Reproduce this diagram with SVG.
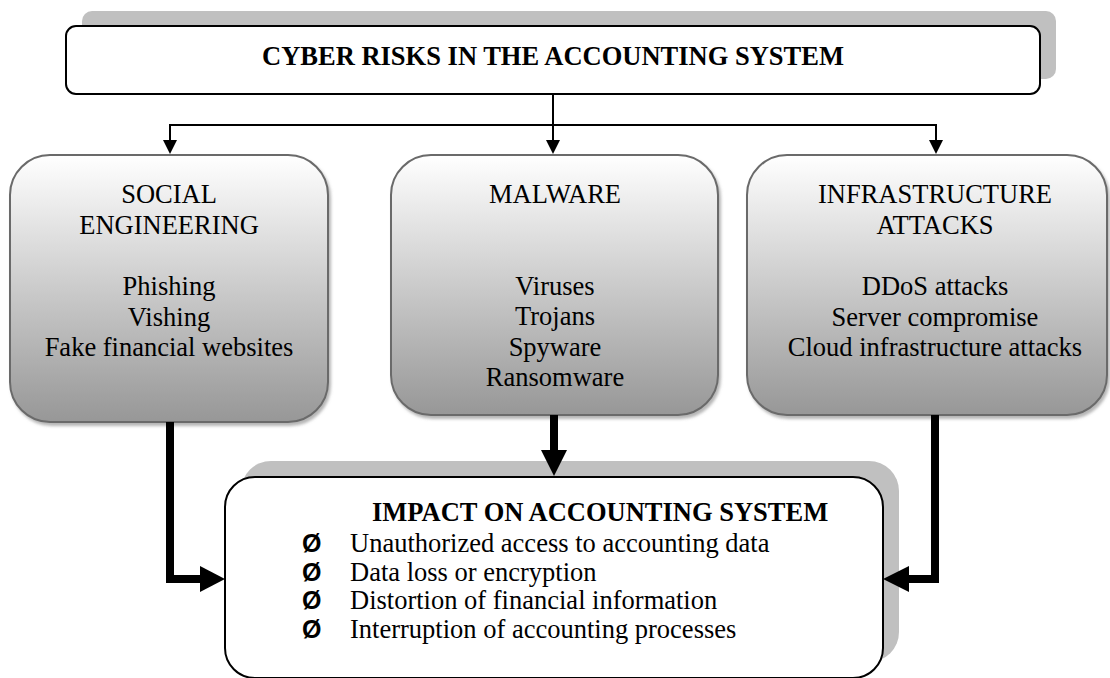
<svg xmlns="http://www.w3.org/2000/svg" width="1110" height="678" viewBox="0 0 1110 678">
  <style>
    .t { font-family: "Liberation Serif", "Times New Roman", serif; font-size: 26.5px; fill: #000; }
    .b { font-weight: bold; }
    .c { text-anchor: middle; }
    .bul { font-family: "Liberation Sans", Arial, sans-serif; font-weight: bold; font-size: 25px; fill: #000; }
    .frame { fill: #fff; stroke: #000; stroke-width: 2; }
    .shade { fill: #c0c0c0; }
    .cat { fill: url(#catFill); stroke: #6a6a6a; stroke-width: 2; filter: url(#soft); }
    .thin { fill: none; stroke: #000; stroke-width: 2; }
    .thick { fill: none; stroke: #000; stroke-width: 8; stroke-linejoin: miter; }
  </style>
  <defs>
    <linearGradient id="catFill" x1="0" y1="0" x2="0" y2="1">
      <stop offset="0" stop-color="#ffffff"/>
      <stop offset="1" stop-color="#979797"/>
    </linearGradient>
    <filter id="soft" x="-5%" y="-5%" width="115%" height="115%">
      <feDropShadow dx="2" dy="3" stdDeviation="1.5" flood-color="#7a7a7a" flood-opacity="0.55"/>
    </filter>
  </defs>

  <!-- heading -->
  <g id="title">
    <rect class="shade" x="82" y="11" width="974" height="68" rx="10"/>
    <rect class="frame" x="66" y="26" width="974" height="68" rx="10"/>
    <text class="t b c" x="553" y="65">CYBER RISKS IN THE ACCOUNTING SYSTEM</text>
  </g>

  <!-- category boxes -->
  <g id="social">
    <rect class="cat" x="10" y="155" width="318" height="267" rx="40"/>
    <text class="t c" x="169" y="203">SOCIAL</text>
    <text class="t c" x="169" y="233.5">ENGINEERING</text>
    <text class="t c" x="169" y="295">Phishing</text>
    <text class="t c" x="169" y="325.5">Vishing</text>
    <text class="t c" x="169" y="356">Fake financial websites</text>
  </g>

  <g id="malware">
    <rect class="cat" x="391" y="155" width="327" height="260" rx="40"/>
    <text class="t c" x="555" y="203">MALWARE</text>
    <text class="t c" x="555" y="294.5">Viruses</text>
    <text class="t c" x="555" y="325">Trojans</text>
    <text class="t c" x="555" y="355.5">Spyware</text>
    <text class="t c" x="555" y="386">Ransomware</text>
  </g>

  <g id="infrastructure">
    <rect class="cat" x="747" y="155" width="360" height="260" rx="40"/>
    <text class="t c" x="935" y="203">INFRASTRUCTURE</text>
    <text class="t c" x="935" y="233.5">ATTACKS</text>
    <text class="t c" x="935" y="295">DDoS attacks</text>
    <text class="t c" x="935" y="325.5">Server compromise</text>
    <text class="t c" x="935" y="356">Cloud infrastructure attacks</text>
  </g>

  <!-- impact box -->
  <g id="impact">
    <rect class="shade" x="241" y="461" width="658" height="201" rx="30"/>
    <rect class="frame" x="225" y="477" width="658" height="201" rx="30"/>
    <text class="t b" x="372" y="521">IMPACT ON ACCOUNTING SYSTEM</text>
    <text class="bul" x="302" y="552">Ø</text>
    <text class="t" x="350" y="552">Unauthorized access to accounting data</text>
    <text class="bul" x="302" y="580.5">Ø</text>
    <text class="t" x="350" y="580.5">Data loss or encryption</text>
    <text class="bul" x="302" y="609">Ø</text>
    <text class="t" x="350" y="609">Distortion of financial information</text>
    <text class="bul" x="302" y="637.5">Ø</text>
    <text class="t" x="350" y="637.5">Interruption of accounting processes</text>
  </g>

  <!-- connectors -->
  <g id="connectors">
    <path class="thin" d="M553 94 V141 M170 141 V125 H936 V141"/>
    <polygon points="163,140 177,140 170,154"/>
    <polygon points="546,140 560,140 553,154"/>
    <polygon points="929,140 943,140 936,154"/>

    <path class="thick" d="M170 422 V579 H202"/>
    <polygon points="200,566 200,592 225,579"/>

    <path class="thick" d="M554 415 V452"/>
    <polygon points="541,450 567,450 554,476"/>

    <path class="thick" d="M935 415 V579 H907"/>
    <polygon points="909,566 909,592 883,579"/>
  </g>
</svg>
